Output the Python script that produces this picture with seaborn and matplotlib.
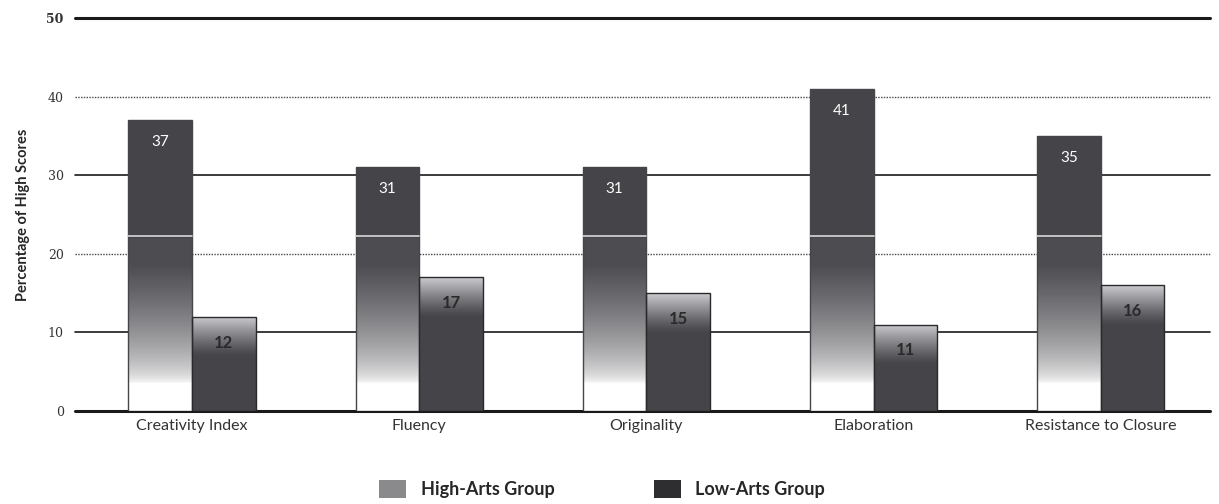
import numpy as np
import pandas as pd
import matplotlib
matplotlib.use("Agg")
import matplotlib.pyplot as plt
import seaborn as sns
from matplotlib.patches import Patch

categories = ["Creativity Index", "Fluency", "Originality", "Elaboration", "Resistance to Closure"]
high_arts = [37, 31, 31, 41, 35]
low_arts = [12, 17, 15, 11, 16]
groups = ["High-Arts Group", "Low-Arts Group"]

df = pd.DataFrame({
    "category": categories * 2,
    "group": [groups[0]] * len(categories) + [groups[1]] * len(categories),
    "value": high_arts + low_arts,
})

sns.set_theme(style="white")
plt.rcParams["font.family"] = ["Lato", "DejaVu Sans"]

DARK = np.array([0.27, 0.27, 0.29])

fig = plt.figure(figsize=(12.19, 5.04), dpi=100)
ax = fig.add_axes([0.0615, 0.1845, 0.931, 0.78])

sns.barplot(data=df, x="category", y="value", hue="group", order=categories,
            hue_order=groups, width=0.56, dodge=True, legend=False, ax=ax,
            errorbar=None, zorder=3)


def high_colors(y):
    # white at the base, grey ramp up to ~22, then solid dark
    t = np.clip((y - 3.5) / 15.0, 0, 1) ** 0.6
    c = (1 - t)[:, None] * np.array([1.0, 1.0, 1.0]) + t[:, None] * (DARK + 0.03)
    c[y >= 22.0] = DARK
    return c


def low_colors(y, h):
    t = np.clip((y - (h - 5.0)) / 5.0, 0, 1) ** 1.2
    light = np.array([0.80, 0.80, 0.82])
    return (1 - t)[:, None] * DARK + t[:, None] * light


for i, cont in enumerate(ax.containers):
    for bar in cont:
        x0 = bar.get_x()
        w = bar.get_width()
        h = bar.get_height()
        ys = np.linspace(0, h, 300)
        cols = high_colors(ys) if i == 0 else low_colors(ys, h)
        img = cols[::-1][:, None, :]
        im = ax.imshow(img, extent=[x0, x0 + w, 0, h], aspect="auto",
                       interpolation="bilinear", zorder=3)
        im.set_clip_path(bar)
        bar.set_facecolor("none")
        bar.set_edgecolor("#2a2a2a" if i == 1 else DARK)
        bar.set_linewidth(1.0)
        bar.set_zorder(4)
        if i == 0:
            ax.plot([x0, x0 + w], [22.3, 22.3], color="#d8d8d8", lw=1.2, zorder=5)
            ax.text(x0 + w / 2, h - 2.8, str(int(h)), color="white",
                    ha="center", va="center", fontsize=11, zorder=6)
        else:
            ax.text(x0 + w / 2, h - 3.3, str(int(h)), color="#2a2a2a",
                    ha="center", va="center", fontsize=12, fontweight="bold", zorder=6)

ax.set_xlim(-0.515, 4.48)
ax.set_ylim(0, 50)

for y in [0, 10, 20, 30, 40, 50]:
    if y in (20, 40):
        ax.axhline(y, color="#444444", lw=1.0, ls=(0, (1, 1)), zorder=1, clip_on=False)
    elif y in (0, 50):
        ax.axhline(y, color="#1a1a1a", lw=2.2, zorder=2, clip_on=False)
    else:
        ax.axhline(y, color="#1a1a1a", lw=1.2, zorder=1, clip_on=False)

sns.despine(ax=ax, left=True, bottom=True)
ax.set_yticks([0, 10, 20, 30, 40, 50])
ax.set_yticklabels(["0", "10", "20", "30", "40", "50"], fontsize=9, color="#333333",
                   family=["DejaVu Serif"])
ax.get_yticklabels()[-1].set_fontweight("bold")
ax.tick_params(axis="y", length=0, pad=8)
ax.tick_params(axis="x", length=0, pad=6, labelsize=11.5, labelcolor="#333333")
ax.set_xlabel("")
ax.set_ylabel("Percentage of High Scores", fontsize=10.5, fontweight="bold", labelpad=12)

handles = [Patch(facecolor="#8a8a8c", edgecolor="none"),
           Patch(facecolor="#2e2e30", edgecolor="none")]
fig.legend(handles, groups, loc="center", bbox_to_anchor=(0.494, 0.03), ncol=2,
           frameon=False, columnspacing=5.5, handlelength=1.5, handleheight=1.2,
           prop={"weight": "bold", "size": 13})

fig.savefig("out.png", dpi=100)
plt.close(fig)
